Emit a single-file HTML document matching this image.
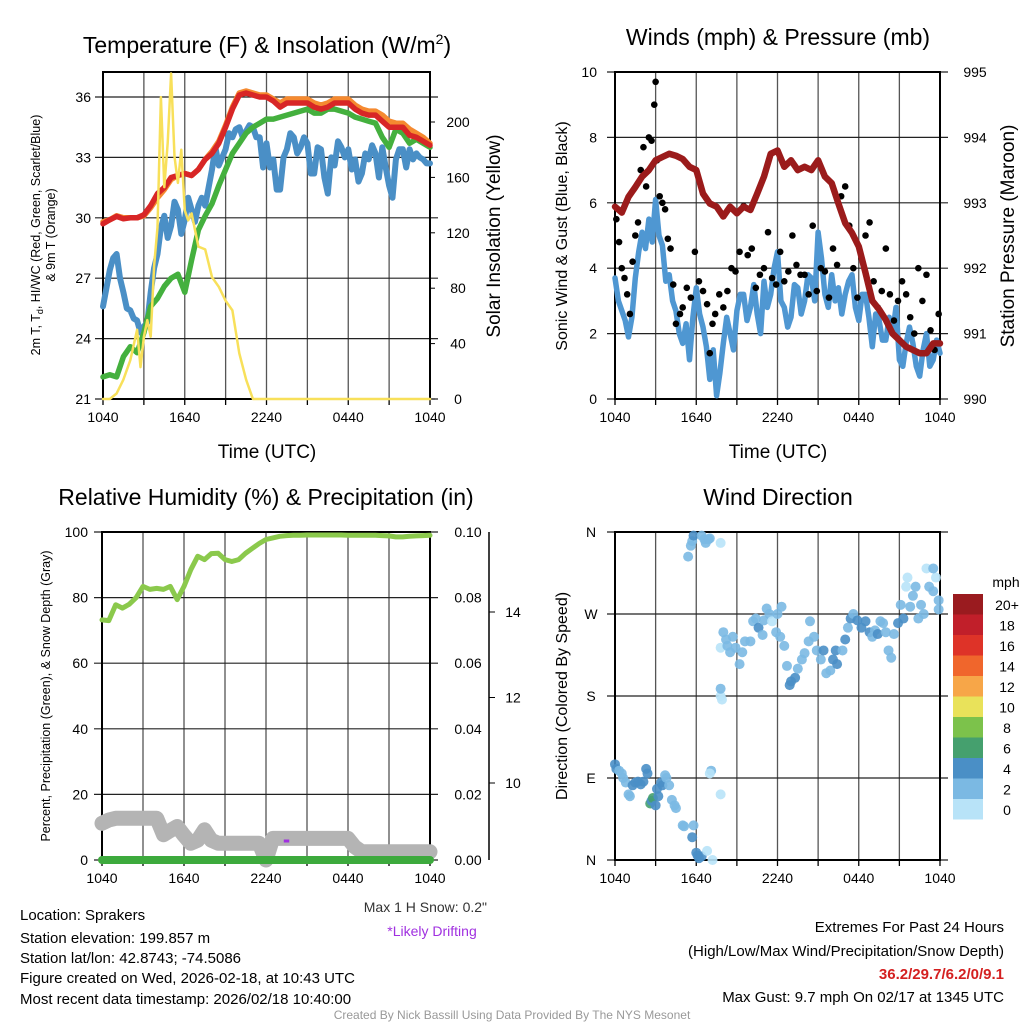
<!DOCTYPE html>
<html><head><meta charset="utf-8"><style>
body{margin:0;background:#fff}
svg{font-family:"Liberation Sans",sans-serif}
</style></head><body>
<svg id="s" width="1024" height="1024" viewBox="0 0 1024 1024" xmlns="http://www.w3.org/2000/svg">
<rect width="1024" height="1024" fill="#fff"/>
<g id="g1"></g>
<g id="g2"></g>
<g id="g3"></g>
<g id="g4"></g>
<text x="267" y="53" font-size="23" text-anchor="middle">Temperature (F) &amp; Insolation (W/m<tspan dy="-9" font-size="14">2</tspan><tspan dy="9">)</tspan></text>
<text x="778" y="45" font-size="23" text-anchor="middle">Winds (mph) &amp; Pressure (mb)</text>
<text x="266" y="505" font-size="23" text-anchor="middle">Relative Humidity (%) &amp; Precipitation (in)</text>
<text x="778" y="505" font-size="23" text-anchor="middle">Wind Direction</text>
<text transform="translate(40,235) rotate(-90)" font-size="12.5" text-anchor="middle">2m T, T<tspan font-size="9" dy="3">d</tspan><tspan dy="-3">, HI/WC (Red, Green, Scarlet/Blue)</tspan></text>
<text transform="translate(55,235) rotate(-90)" font-size="12.5" text-anchor="middle">&amp; 9m T (Orange)</text>
<text transform="translate(500,236) rotate(-90)" font-size="19" text-anchor="middle">Solar Insolation (Yellow)</text>
<text x="267" y="458" font-size="19" text-anchor="middle">Time (UTC)</text>
<text x="778" y="458" font-size="19" text-anchor="middle">Time (UTC)</text>
<text transform="translate(567,236) rotate(-90)" font-size="16" text-anchor="middle">Sonic Wind &amp; Gust (Blue, Black)</text>
<text transform="translate(1014,236) rotate(-90)" font-size="19" text-anchor="middle">Station Pressure (Maroon)</text>
<text transform="translate(50,696) rotate(-90)" font-size="12.5" text-anchor="middle">Percent, Precipitation (Green), &amp; Snow Depth (Gray)</text>
<text transform="translate(567,696) rotate(-90)" font-size="16" text-anchor="middle">Direction (Colored By Speed)</text>
<g font-size="15">
<text x="20" y="920">Location: Sprakers</text>
<text x="20" y="943">Station elevation: 199.857 m</text>
<text x="20" y="963">Station lat/lon: 42.8743; -74.5086</text>
<text x="20" y="983">Figure created on Wed, 2026-02-18, at 10:43 UTC</text>
<text x="20" y="1004">Most recent data timestamp: 2026/02/18 10:40:00</text>
</g>
<text x="487" y="912" font-size="14" text-anchor="end" fill="#333">Max 1 H Snow: 0.2"</text>
<text x="432" y="936" font-size="14" text-anchor="middle" fill="#a030e0">*Likely Drifting</text>
<g font-size="15" text-anchor="end">
<text x="1004" y="932">Extremes For Past 24 Hours</text>
<text x="1004" y="956">(High/Low/Max Wind/Precipitation/Snow Depth)</text>
<text x="1004" y="979" font-weight="bold" fill="#d42020">36.2/29.7/6.2/0/9.1</text>
<text x="1004" y="1002">Max Gust: 9.7 mph On 02/17 at 1345 UTC</text>
</g>
<text x="512" y="1019" font-size="12" text-anchor="middle" fill="#999">Created By Nick Bassill Using Data Provided By The NYS Mesonet</text>
</svg>
<script>
// ---- data ----
const halfHours=[0,0.5,1,1.5,2,2.5,3,3.5,4,4.5,5,5.5,6,6.5,7,7.5,8,8.5,9,9.5,10,10.5,11,11.5,12,12.5,13,13.5,14,14.5,15,15.5,16,16.5,17,17.5,18,18.5,19,19.5,20,20.5,21,21.5,22,22.5,23,23.5,24];
const tempRed=[29.7,29.9,30.07,29.95,30.0,30.0,30.15,30.6,31.2,31.5,32.0,32.1,32.2,32.1,32.4,32.9,33.2,33.7,34.5,35.4,36.1,36.2,36.1,36.0,36.0,35.8,35.5,35.7,35.7,35.7,35.7,35.5,35.4,35.5,35.7,35.7,35.7,35.4,35.2,35.1,35.1,34.8,34.5,34.5,34.5,34.1,34.0,33.8,33.6];
const tempOrange=[29.8,29.9,30.1,30.0,30.0,30.0,30.1,30.5,31.0,31.4,31.9,32.1,32.2,32.1,32.4,32.9,33.3,33.8,34.6,35.5,36.2,36.3,36.2,36.1,36.1,35.9,35.7,35.9,35.9,35.9,35.9,35.7,35.6,35.7,35.9,35.9,35.9,35.6,35.4,35.3,35.3,35.1,34.8,34.7,34.7,34.4,34.2,34.0,33.7];
const dewGreen=[22.1,22.2,22.1,23.1,23.6,23.3,24.3,25.6,26.0,26.6,27.0,27.2,26.3,27.9,29.4,30.1,30.7,31.6,32.4,33.2,33.7,34.2,34.5,34.7,34.9,34.9,35.0,35.1,35.2,35.3,35.4,35.2,35.2,35.4,35.4,35.3,35.2,35.0,34.9,34.8,34.7,34.0,33.5,34.4,34.2,33.7,33.9,33.7,33.5];
const chillBlue=[25.6,26.5,27.4,28.0,28.2,27.0,26.3,25.5,25.4,25.0,24.9,24.3,24.6,24.8,26.3,27.5,28.2,29.5,30.1,29.0,29.6,30.8,30.4,29.2,29.9,31.0,30.4,29.8,30.6,31.0,30.6,31.5,32.4,33.5,32.6,33.0,33.4,34.2,34.0,34.4,34.5,34.0,34.3,34.6,34.5,34.0,34.0,32.5,33.7,32.5,32.9,31.4,31.4,33.0,33.4,34.2,34.0,33.2,33.5,34.0,33.7,32.2,32.2,33.5,33.4,32.0,31.2,33.0,32.6,33.8,33.5,33.0,33.4,32.4,32.9,31.8,32.2,33.2,32.9,33.6,33.2,32.0,33.5,32.5,31.6,31.0,32.9,33.4,33.4,32.5,33.4,32.9,33.2,33.0,32.9,32.7,32.7];
const solarHours=[0,0.5,1,1.5,2,2.5,2.75,3,3.25,3.5,3.75,4,4.25,4.5,4.75,5,5.25,5.5,5.75,6,6.25,6.5,7,7.5,8,8.5,9,9.5,10,10.5,11,24];
const solarValues=[0,0,4,14,28,50,23,45,57,45,96,124,218,153,185,235,175,156,180,136,129,134,110,108,88,81,71,64,33,14,0,0];
const pressure=[992.94,992.85,993.09,993.24,993.4,993.5,993.65,993.7,993.75,993.72,993.67,993.55,993.5,993.14,992.99,992.94,992.79,992.94,992.84,992.94,992.89,993.14,993.4,993.75,993.8,993.55,993.65,993.5,993.55,993.5,993.65,993.4,993.3,992.99,992.69,992.54,992.33,991.93,991.5,991.37,991.21,991.0,990.9,990.8,990.75,990.7,990.7,990.85,990.85];
const sonicWind=[3.7,3.0,2.7,2.4,1.9,2.5,3.7,4.5,5.1,4.6,5.5,4.8,6.1,5.0,4.7,3.6,3.8,3.0,2.7,2.0,1.7,2.3,1.2,2.5,3.4,2.6,2.2,1.6,0.6,1.5,0.1,0.8,1.7,2.5,2.0,1.5,2.7,3.2,3.2,2.4,2.8,3.5,2.6,2.0,3.6,2.8,3.2,4.0,4.5,3.0,2.8,2.2,2.5,3.5,3.4,2.6,3.0,3.8,3.7,3.0,5.1,4.3,3.2,2.8,3.8,3.0,3.4,2.6,3.2,3.6,3.8,2.8,2.4,3.2,3.2,2.5,1.6,2.6,2.4,1.8,1.8,2.5,2.0,2.8,1.2,1.0,1.7,2.2,1.7,1.0,0.7,1.5,2.0,1.0,1.2,1.8,1.4];
const gustHours=[0.1,0.3,0.5,0.7,0.9,1.1,1.3,1.5,1.7,1.9,2.1,2.3,2.5,2.7,2.9,3.0,3.1,3.3,3.5,3.7,3.9,4.1,4.3,4.5,4.8,5.0,5.3,5.6,5.9,6.2,6.5,6.8,7.0,7.2,7.4,7.7,8.0,8.3,8.6,8.9,9.2,9.5,9.8,10.1,10.4,10.7,11.0,11.3,11.6,11.9,12.2,12.5,12.8,13.1,13.4,13.7,14.0,14.3,14.6,14.9,15.2,15.5,15.8,16.1,16.4,16.7,17.0,17.3,17.6,17.9,18.2,18.5,18.8,19.1,19.4,19.7,20.0,20.3,20.6,20.9,21.2,21.5,21.8,22.1,22.4,22.7,23.0,23.3,23.6,23.9];
const gustValues=[5.5,4.8,4.0,3.7,3.2,2.6,4.2,5.0,5.4,7.0,7.7,6.5,8.0,7.9,9.0,9.7,7.3,6.2,6.0,5.8,4.9,4.6,3.5,2.3,2.6,2.8,3.4,3.1,4.5,3.6,3.3,2.9,1.4,2.3,2.6,3.2,2.8,3.3,4.0,3.9,4.5,5.9,4.4,4.6,3.4,3.8,4.0,5.1,3.7,3.5,4.5,3.6,3.9,5.0,4.1,3.8,3.8,3.2,5.3,3.3,4.0,3.9,3.1,4.6,4.1,6.2,6.5,5.3,4.0,3.1,4.3,5.0,5.4,3.6,2.8,3.3,4.6,3.2,2.4,3.0,3.6,3.2,2.5,2.0,4.0,3.0,3.8,2.1,1.5,2.6];
const rhValues=[73.2,73.0,77.8,76.8,78.0,80.0,83.4,82.5,82.8,82.5,83.4,79.4,83.4,88.5,92.6,91.6,93.4,93.5,91.6,91.0,91.6,93.5,95.0,96.5,97.7,98.2,98.7,98.9,99.0,99.0,99.1,99.1,99.1,99.1,99.1,99.1,99.0,99.0,99.0,99.0,99.0,98.9,98.8,98.5,98.5,98.7,98.8,98.9,99.0];
const snowDepth=[0.0112,0.0122,0.0127,0.0127,0.0127,0.0127,0.0127,0.0127,0.0127,0.0077,0.009,0.0102,0.0075,0.0051,0.006,0.0092,0.006,0.0051,0.0051,0.0051,0.0051,0.0051,0.0051,0.0051,0.0,0.0066,0.0066,0.0066,0.0066,0.0066,0.0066,0.0066,0.0066,0.0066,0.0066,0.0066,0.0066,0.004,0.0025,0.0025,0.0025,0.0025,0.0025,0.0025,0.0025,0.0025,0.0025,0.0025,0.0025];
const dirHours=[0,0.1,0.3,0.5,0.6,0.8,1.0,1.1,1.3,1.5,1.7,1.9,2.1,2.3,2.4,2.6,2.7,2.8,3.0,3.1,3.2,3.4,3.5,3.7,3.8,4.0,4.2,4.4,4.5,5.0,5.1,5.8,5.7,6.0,6.1,6.2,6.4,6.8,7.2,7.1,7.0,7.8,5.4,5.6,5.7,5.8,6.4,6.6,6.7,6.9,7.0,7.8,7.8,7.9,7.8,7.8,8.0,8.2,8.3,8.5,8.7,8.9,9.2,9.4,9.6,10.0,10.2,10.4,10.6,10.9,11.0,11.2,11.4,11.6,11.9,12.0,12.2,12.3,12.5,12.7,12.9,13.0,13.3,13.5,13.8,14.0,14.3,14.4,14.7,14.9,15.2,15.4,15.6,15.9,16.1,16.3,16.4,16.8,17.0,17.2,17.4,17.6,17.9,18.2,18.5,18.8,19.0,19.2,19.4,19.6,19.8,20.0,20.2,20.4,20.6,20.9,21.1,21.3,21.5,21.6,21.8,22.0,22.2,22.4,22.6,22.8,23.0,23.2,23.5,23.7,23.9,23.9,23.5];
const dirValues=[105,100,98,95,90,85,72,70,82,85,86,83,86,100,95,62,65,68,60,78,70,85,82,93,90,82,66,60,57,38,37,38,25,8,5,2,4,10,0,98,95,72,333,345,350,356,356,352,348,352,353,348,180,176,188,233,250,242,235,228,245,233,215,228,240,240,262,265,255,247,263,276,270,262,250,270,245,278,235,213,192,196,200,210,220,227,240,262,245,230,220,230,205,208,220,230,215,230,242,255,265,270,263,255,262,250,245,252,248,262,260,250,230,222,248,260,280,265,300,310,278,290,300,265,280,270,320,300,295,310,285,275,320];
const dirSpeed=[4,3,2,2,2,2,2,2,3,3,4,4,4,4,4,6,4,6,4,4,4,3,3,2,2,2,1,2,2,2,1,2,3,3,4,4,3,0,0,1,0,0,1,2,2,4,2,2,2,2,2,0,0,0,1,0,1,2,2,2,1,2,2,2,2,2,2,2,3,2,2,2,2,0,2,2,2,2,2,2,3,4,4,2,2,2,2,2,2,2,2,4,2,2,4,4,4,2,4,2,4,2,4,4,4,4,2,2,4,2,2,2,2,2,2,4,2,4,0,0,2,2,2,2,2,2,0,2,1,0,2,2,2];
const speedLabels=["0","2","4","6","8","10","12","14","16","18","20+"];
const speedColors=["#b8e3f8","#7bb9e3","#4a8fc6","#45a06e","#7cc24b","#e9e25a","#f7a648","#f0662c","#de3328","#c11f2a","#9a1b1f"];
const xTickLabels=["1040","1640","2240","0440","1040"];
const tempTicks=[21,24,27,30,33,36];
const solarTicks=[0,40,80,120,160,200];
const windTicks=[0,2,4,6,8,10];
const pressTicks=[990,991,992,993,994,995];
const rhTicks=[0,20,40,60,80,100];
const precipTicks=["0.00","0.02","0.04","0.06","0.08","0.10"];
const snowTicks=[10,12,14];
const dirTicks=["N","E","S","W","N"];

const NS="http://www.w3.org/2000/svg";
function el(parent,tag,attrs){const e=document.createElementNS(NS,tag);for(const k in attrs)e.setAttribute(k,attrs[k]);parent.appendChild(e);return e;}
function lin(d0,d1,r0,r1){return v=>r0+(v-d0)/(d1-d0)*(r1-r0);}
function evenHours(arr){return arr.map((v,i)=>i*24/(arr.length-1));}
function poly(g,xs,ys,sx,sy,color,w,name){
  const pts=xs.map((x,i)=>sx(x).toFixed(1)+","+sy(ys[i]).toFixed(1)).join(" ");
  const p=el(g,"polyline",{points:pts,fill:"none",stroke:color,"stroke-width":w,"stroke-linejoin":"round","stroke-linecap":"round"});
  
  
  return p;
}
function frame(g,L,R,T,B,sx,hTicksY){
  for(let h=3;h<24;h+=3){const l=el(g,"line",{x1:sx(h),x2:sx(h),y1:T,y2:B,stroke:"#555","stroke-width":1.3});
    
    }
  hTicksY.forEach(y=>{const l=el(g,"line",{x1:L-8,x2:R+8,y1:y,y2:y,stroke:"#222","stroke-width":1.2});
    
    });
  for(let h=0;h<=24;h+=3){const l=el(g,"line",{x1:sx(h),x2:sx(h),y1:B,y2:B+6,stroke:"#000","stroke-width":1.3});
    
    }
  const r=el(g,"rect",{x:L,y:T,width:R-L,height:B-T,fill:"none",stroke:"#000","stroke-width":2});
  
  
  xTickLabels.forEach((t,i)=>{const x=el(g,"text",{x:sx(i*6),y:B+23,"font-size":14,"text-anchor":"middle"});x.textContent=t;
    
    });
}
function label(g,x,y,t,anchor,name,size){const e=el(g,"text",{x:x,y:y,"font-size":size||14,"text-anchor":anchor});e.textContent=t;
  
  return e;}

// ---- panel 1 ----
(function(){
  const g=document.getElementById("g1");
  const L=103,R=430,T=72,B=399;
  const sx=lin(0,24,L,R), sy=lin(21,36,399,97), sz=lin(0,200,399,122);
  frame(g,L,R,T,B,sx,tempTicks.map(sy));
  tempTicks.forEach(v=>label(g,L-12,sy(v)+5,String(v),"end","temperature-tick-label"));
  solarTicks.forEach(v=>{label(g,R+28,sz(v)+5,String(v),"middle","solar-tick-label");
    const l=el(g,"line",{x1:R,x2:R+5,y1:sz(v),y2:sz(v),stroke:"#000"});
    
    });
  poly(g,evenHours(chillBlue),chillBlue,sx,sy,"#4a8fc6",6,"wind-chill-line");
  poly(g,halfHours,dewGreen,sx,sy,"#44b03e",5.5,"dewpoint-line");
  poly(g,halfHours,tempOrange,sx,sy,"#f58a30",5.5,"temp-9m-line");
  poly(g,halfHours,tempRed,sx,sy,"#d82626",5.5,"temp-2m-line");
  poly(g,solarHours,solarValues,sx,sz,"#f8e05a",2.5,"solar-line");
})();

// ---- panel 2 ----
(function(){
  const g=document.getElementById("g2");
  const L=615,R=940,T=72,B=399;
  const sx=lin(0,24,L,R), sy=lin(0,10,399,72), sp=lin(990,995,399,72);
  frame(g,L,R,T,B,sx,windTicks.map(sy));
  windTicks.forEach(v=>label(g,L-18,sy(v)+5,String(v),"end","wind-tick-label"));
  pressTicks.forEach(v=>label(g,R+35,sp(v)+5,String(v),"middle","pressure-tick-label"));
  poly(g,evenHours(sonicWind),sonicWind,sx,sy,"#4f97d2",5.5,"sonic-wind-line");
  gustHours.forEach((h,i)=>{const c=el(g,"circle",{cx:sx(h),cy:sy(gustValues[i]),r:3.3,fill:"#000"});
    
    });
  poly(g,halfHours,pressure,sx,sp,"#9b1b1b",6.5,"pressure-line");
})();

// ---- panel 3 ----
(function(){
  const g=document.getElementById("g3");
  const L=102,R=430,T=532,B=860;
  const sx=lin(0,24,L,R), sy=lin(0,100,860,532), sp=lin(0,0.1,860,532), ss=lin(10,14,783,612);
  frame(g,L,R,T,B,sx,rhTicks.map(sy));
  rhTicks.forEach(v=>label(g,L-14,sy(v)+5,String(v),"end","rh-tick-label"));
  precipTicks.forEach((t,i)=>label(g,R+38,sy(i*20)+5,t,"middle","precip-tick-label"));
  const a=el(g,"line",{x1:489,x2:489,y1:T,y2:B,stroke:"#000","stroke-width":1.5});
  
  
  snowTicks.forEach(v=>{label(g,513,ss(v)+5,String(v),"middle","snow-tick-label");
    const l=el(g,"line",{x1:489,x2:495,y1:ss(v),y2:ss(v),stroke:"#000"});
    
    });
  poly(g,halfHours,snowDepth,sx,sp,"#b4b4b4",15,"snow-depth-line");
  poly(g,halfHours,rhValues,sx,sy,"#8bc94c",5,"rh-line");
  poly(g,[0,24],[0,0],sx,sp,"#3daa3d",8,"precip-line");
  const m=el(g,"line",{x1:sx(13.3),x2:sx(13.7),y1:841,y2:841,stroke:"#a030e0","stroke-width":3});
  
  
})();

// ---- panel 4 ----
(function(){
  const g=document.getElementById("g4");
  const L=615,R=940,T=532,B=860;
  const sx=lin(0,24,L,R), sy=lin(0,360,860,532);
  frame(g,L,R,T,B,sx,[0,90,180,270,360].map(sy));
  dirTicks.forEach((t,i)=>label(g,L-24,sy(i*90)+5,t,"middle","direction-tick-label"));
  dirHours.forEach((h,i)=>{const c=el(g,"circle",{cx:sx(h),cy:sy(dirValues[i]),r:5,fill:speedColors[Math.min(10,Math.round(dirSpeed[i]/2))],"fill-opacity":0.9});
    
    });
  label(g,1006,587,"mph","middle","colorbar-title",14);
  speedLabels.forEach((t,i)=>{const y=594+(10-i)*20.5;
    const r=el(g,"rect",{x:953,y:y,width:30,height:20.5,fill:speedColors[i]});
    
    
    label(g,1007,y+16,t,"middle","colorbar-label",14);});
})();
</script>
</body></html>
